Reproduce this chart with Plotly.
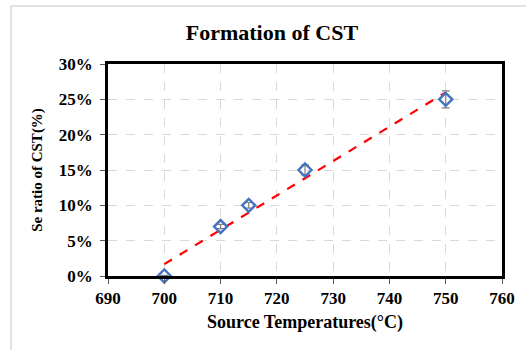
import numpy as np
import plotly.graph_objects as go

temps = [700, 710, 715, 725, 750]
se_ratio = [0.0, 7.0, 10.0, 15.0, 25.0]
err = [0.1, 0.3, 0.4, 0.7, 1.2]
xticks = [690, 700, 710, 720, 730, 740, 750, 760]
yticks = [0, 5, 10, 15, 20, 25, 30]

slope, intercept = np.polyfit(temps, se_ratio, 1)
fit_x = [min(temps), max(temps)]
fit_y = [slope * v + intercept for v in fit_x]

FONT = "Liberation Serif, Times New Roman, serif"

fig = go.Figure()
fig.add_trace(go.Scatter(
    x=fit_x, y=fit_y, mode="lines",
    line=dict(color="#FF0000", width=2.2, dash="dash"),
    showlegend=False, hoverinfo="skip"))
fig.add_trace(go.Scatter(
    x=temps, y=se_ratio, mode="markers",
    marker=dict(symbol="diamond-open", size=10, color="#4472C4", line=dict(width=2.4, color="#4472C4")),
    error_y=dict(type="data", array=err, visible=True, color="#7F7F7F", thickness=1.2, width=4),
    showlegend=False, cliponaxis=False))

axis_common = dict(
    showline=True, linecolor="black", linewidth=2.5, mirror=True,
    showgrid=True, gridcolor="#D9D9D9", griddash="dash", gridwidth=1.3,
    zeroline=False, ticks="outside", ticklen=5, tickcolor="#595959", tickwidth=1.3,
    tickfont=dict(family=FONT, size=17, color="black"),
)

fig.update_xaxes(range=[690, 760], tickvals=xticks, ticktext=[f"<b>{t}</b>" for t in xticks],
                 title=dict(text="<b>Source Temperatures(°C)</b>", font=dict(family=FONT, size=18, color="black"), standoff=9),
                 **axis_common)
fig.update_yaxes(range=[0, 30], tickvals=yticks, ticktext=[f"<b>{t}%</b>" for t in yticks],
                 ticklabelstandoff=4,
                 title=dict(text="<b>Se ratio of CST(%)</b>", font=dict(family=FONT, size=15, color="black"), standoff=13),
                 **axis_common)

fig.update_layout(
    width=526, height=350,
    margin=dict(l=108, r=24, t=64, b=74),
    paper_bgcolor="white", plot_bgcolor="white",
    title=dict(text="<b>Formation of CST</b>", x=0.517, xanchor="center", y=0.907, yanchor="middle",
               font=dict(family=FONT, size=22, color="black")),
    shapes=[dict(type="rect", xref="paper", yref="paper", x0=-0.246, x1=1.3, y0=-0.6, y1=1.274,
                 line=dict(color="#D9D9D9", width=1.5), layer="below")],
)

fig.write_html("out.html")
